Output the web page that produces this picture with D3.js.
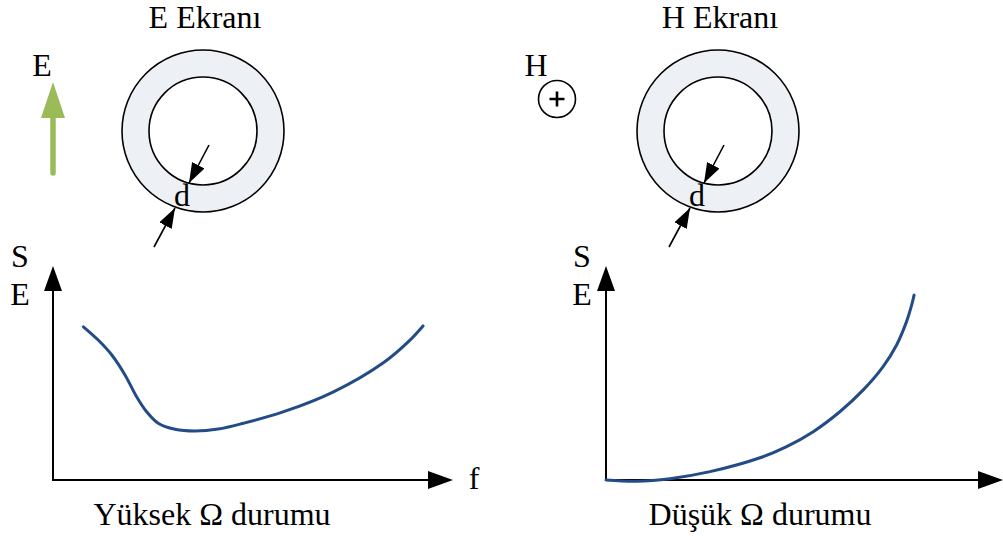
<!DOCTYPE html>
<html>
<head>
<meta charset="utf-8">
<script src="https://cdn.jsdelivr.net/npm/d3@7"></script>
<style>
  body { margin: 0; background: #fff; }
  text { font-family: "Liberation Serif", "Times New Roman", serif; fill: #000; }
</style>
</head>
<body>
<div id="chart"></div>
<script>
(function () {
  // panel titles / labels
  let screenTitles = ['E Ekranı', 'H Ekranı'];
  let captions = ['Yüksek Ω durumu', 'Düşük Ω durumu'];
  let yLabels = ['S', 'E'];
  let xLabel = 'f';

  // high-impedance curve (f, SE) in arbitrary units 0..100
  let highF = [7.6, 11.3, 14.7, 18, 20.9, 23.4, 26.3, 30.5, 35.5, 41.3, 47.6, 57.5, 70, 82.5, 89.25, 92.5];
  let highSE = [71.6, 65.4, 58.4, 49.1, 38.9, 31.9, 26.5, 23.7, 22.9, 23.8, 26.5, 31.8, 41.1, 54.7, 65.4, 72];

  // low-impedance curve
  let lowF = [0, 7.7, 16.1, 26.2, 38.8, 45.5, 52.2, 58.9, 64.8, 69.8, 73.2, 75.7, 77, 77.6];
  let lowSE = [0, -0.6, 0.6, 3.9, 10.4, 15.6, 22.6, 31.9, 42.1, 53, 63.1, 74, 81.8, 86.4];

  let width = 1003, height = 536;
  let curveColor = '#234c86';
  let fontSize = 32;

  let svg = d3.select('#chart')
    .append('svg')
    .attr('width', width)
    .attr('height', height);

  let defs = svg.append('defs');
  defs.append('marker')
    .attr('id', 'dArrow')
    .attr('viewBox', '0 0 20 14')
    .attr('refX', 20)
    .attr('refY', 7)
    .attr('markerUnits', 'userSpaceOnUse')
    .attr('markerWidth', 20)
    .attr('markerHeight', 14)
    .attr('orient', 'auto')
    .append('path')
    .attr('d', 'M0,0 L20,7 L0,14 Z')
    .attr('fill', '#000');

  let yScale = d3.scaleLinear().domain([0, 100]).range([480, 266]);

  let panels = [
    { x: d3.scaleLinear().domain([0, 100]).range([53, 453]), f: highF, se: highSE, fLabel: true,
      caption: captions[0], captionX: 212, labelX: 20 },
    { x: d3.scaleLinear().domain([0, 100]).range([606, 1003]), f: lowF, se: lowSE, fLabel: false,
      caption: captions[1], captionX: 760, labelX: 582 }
  ];

  panels.forEach(p => {
    let g = svg.append('g');
    let x0 = p.x(0), x1 = p.x(100), y0 = yScale(0), y1 = yScale(100);

    // axes
    g.append('line')
      .attr('x1', x0).attr('y1', y0).attr('x2', x0).attr('y2', y1 + 20)
      .attr('stroke', '#000').attr('stroke-width', 2);
    g.append('path')
      .attr('d', `M${x0},${y1} L${x0 - 9},${y1 + 25} L${x0 + 9},${y1 + 25} Z`)
      .attr('fill', '#000');
    g.append('line')
      .attr('x1', x0 - 1).attr('y1', y0).attr('x2', x1 - 20).attr('y2', y0)
      .attr('stroke', '#000').attr('stroke-width', 2);
    g.append('path')
      .attr('d', `M${x1},${y0} L${x1 - 25},${y0 - 9} L${x1 - 25},${y0 + 9} Z`)
      .attr('fill', '#000');

    // axis labels
    g.selectAll('text.ylab')
      .data(yLabels)
      .enter()
      .append('text')
      .attr('class', 'ylab')
      .attr('x', p.labelX)
      .attr('y', (d, i) => 267 + i * 38)
      .attr('text-anchor', 'middle')
      .attr('font-size', fontSize)
      .text(d => d);

    if (p.fLabel) {
      g.append('text')
        .attr('x', x1 + 21)
        .attr('y', 489)
        .attr('text-anchor', 'middle')
        .attr('font-size', fontSize)
        .text(xLabel);
    }

    // curve
    let line = d3.line()
      .x(d => p.x(d[0]))
      .y(d => yScale(d[1]))
      .curve(d3.curveCatmullRom.alpha(0.5));
    g.append('path')
      .datum(d3.zip(p.f, p.se))
      .attr('d', line)
      .attr('fill', 'none')
      .attr('stroke', curveColor)
      .attr('stroke-width', 3)
      .attr('stroke-linecap', 'round');

    // caption
    g.append('text')
      .attr('x', p.captionX)
      .attr('y', 525)
      .attr('text-anchor', 'middle')
      .attr('font-size', fontSize)
      .text(p.caption);
  });

  // screens (rings)
  let rings = [
    { cx: 203, cy: 131, title: screenTitles[0] },
    { cx: 718, cy: 131, title: screenTitles[1] }
  ];

  rings.forEach(r => {
    let g = svg.append('g').attr('transform', `translate(${r.cx}, ${r.cy})`);
    g.append('circle').attr('r', 81).attr('fill', '#edf0f5').attr('stroke', '#000').attr('stroke-width', 1.6);
    g.append('circle').attr('r', 54).attr('fill', '#fff').attr('stroke', '#000').attr('stroke-width', 1.6);
    g.append('text')
      .attr('x', 2)
      .attr('y', -103)
      .attr('text-anchor', 'middle')
      .attr('font-size', fontSize)
      .text(r.title);

    // thickness arrows (d)
    g.append('line')
      .attr('x1', 6).attr('y1', 14).attr('x2', -14).attr('y2', 52)
      .attr('stroke', '#000').attr('stroke-width', 1.6)
      .attr('marker-end', 'url(#dArrow)');
    g.append('line')
      .attr('x1', -49).attr('y1', 116).attr('x2', -28).attr('y2', 77)
      .attr('stroke', '#000').attr('stroke-width', 1.6)
      .attr('marker-end', 'url(#dArrow)');
    g.append('text')
      .attr('x', -21)
      .attr('y', 75)
      .attr('text-anchor', 'middle')
      .attr('font-size', fontSize)
      .text('d');
  });

  // E field arrow
  svg.append('text')
    .attr('x', 42).attr('y', 76)
    .attr('text-anchor', 'middle')
    .attr('font-size', fontSize)
    .text('E');
  svg.append('line')
    .attr('x1', 53).attr('y1', 173).attr('x2', 53).attr('y2', 114)
    .attr('stroke', '#9bbb59').attr('stroke-width', 5.5).attr('stroke-linecap', 'round');
  svg.append('path')
    .attr('d', 'M53,82 L41,118 L65,118 Z')
    .attr('fill', '#9bbb59');

  // H field (out of page)
  svg.append('text')
    .attr('x', 536).attr('y', 76)
    .attr('text-anchor', 'middle')
    .attr('font-size', fontSize)
    .text('H');
  svg.append('circle')
    .attr('cx', 557).attr('cy', 99).attr('r', 18.5)
    .attr('fill', 'none').attr('stroke', '#000').attr('stroke-width', 1.6);
  svg.append('path')
    .attr('d', 'M549.5,99 H564.5 M557,91.5 V106.5')
    .attr('stroke', '#000').attr('stroke-width', 2.6);
})();
</script>
</body>
</html>
